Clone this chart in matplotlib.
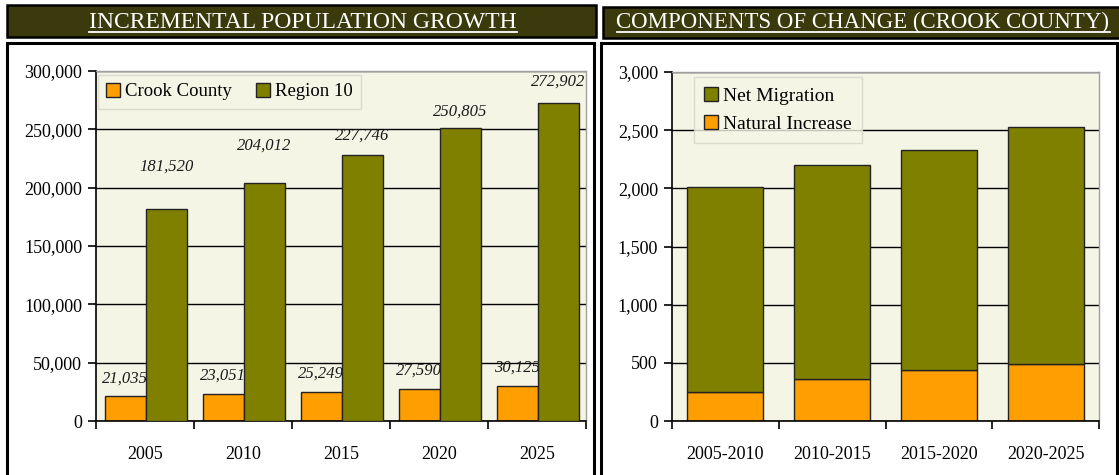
import matplotlib
matplotlib.use("Agg")
import matplotlib.pyplot as plt
from matplotlib.patches import Rectangle, Patch
from matplotlib.lines import Line2D
import numpy as np

# ---- data ----
years = ["2005", "2010", "2015", "2020", "2025"]
crook_county = [21035, 23051, 25249, 27590, 30125]
region_10 = [181520, 204012, 227746, 250805, 272902]

periods = ["2005-2010", "2010-2015", "2015-2020", "2020-2025"]
natural_increase = [245, 357, 437, 494]
net_migration = [1765, 1843, 1892, 2035]

left_title = "INCREMENTAL POPULATION GROWTH"
right_title = "COMPONENTS OF CHANGE (CROOK COUNTY)"

# label offsets above bar tops (points) – annotation placement only
crook_label_off = [13, 13, 13, 13, 13]
region_label_off = [31, 27, 14, 12, 15]

ORANGE = "#FF9E00"
OLIVE = "#808000"
EDGE = "#222222"
PLOTBG = "#F5F5E6"
BAR_DARK = "#3a3a0c"
SERIF = ["Liberation Serif", "DejaVu Serif"]

plt.rcParams["font.family"] = SERIF

W, H = 1119, 475
fig = plt.figure(figsize=(W / 100, H / 100), dpi=100)
fig.patch.set_facecolor("white")


def fx(px):
    return px / W


def fy(py):
    return 1 - py / H


def rect_px(x0, y0, x1, y1, **kw):
    r = Rectangle((fx(x0), fy(y1)), fx(x1) - fx(x0), fy(y0) - fy(y1),
                  transform=fig.transFigure, **kw)
    fig.add_artist(r)
    return r


# panel frames
rect_px(7, 43, 594, 480, facecolor="white", edgecolor="black", lw=2.2, zorder=0)
rect_px(601, 43, 1117, 480, facecolor="white", edgecolor="black", lw=2.2, zorder=0)
# title bars
rect_px(7, 5, 596, 37, facecolor=BAR_DARK, edgecolor="black", lw=1.8, zorder=0)
rect_px(603, 7, 1121, 38, facecolor=BAR_DARK, edgecolor="black", lw=1.8, zorder=0)

t1 = fig.text(fx(303), fy(22), left_title, color="white", fontsize=17,
              ha="center", va="center", family=SERIF)
t2 = fig.text(fx(863), fy(22), right_title, color="white", fontsize=16.5,
              ha="center", va="center", family=SERIF)


def style_axes(ax, n):
    ax.set_facecolor(PLOTBG)
    ax.set_xlim(-0.5, n - 0.5)
    for s in ["top", "right"]:
        ax.spines[s].set_color("#a0a0a0")
        ax.spines[s].set_linewidth(1)
    for s in ["left", "bottom"]:
        ax.spines[s].set_color("black")
        ax.spines[s].set_linewidth(1.2)
    ax.yaxis.grid(True, color="black", lw=1)
    ax.set_axisbelow(True)
    ax.set_xticks(np.arange(n + 1) - 0.5)
    ax.set_xticklabels([])
    ax.tick_params(axis="x", which="major", direction="out", length=6, width=1.2)
    ax.tick_params(axis="y", which="major", direction="out", length=6, width=1.2,
                   labelsize=13, pad=4)
    ax.set_xticks(np.arange(n), minor=True)
    ax.tick_params(axis="x", which="minor", length=0, labelsize=13, pad=18)


# ---- left chart ----
axL = fig.add_axes([fx(96), fy(421), fx(586) - fx(96), fy(71) - fy(421)])
style_axes(axL, len(years))
x = np.arange(len(years))
bw = 0.42
axL.bar(x - 0.5 + 0.09, crook_county, width=bw, align="edge", color=ORANGE,
        edgecolor=EDGE, lw=1, zorder=2, label="Crook County")
axL.bar(x - 0.5 + 0.51, region_10, width=bw, align="edge", color=OLIVE,
        edgecolor=EDGE, lw=1, zorder=4, label="Region 10")
axL.set_ylim(0, 300000)
axL.set_yticks(np.arange(0, 300001, 50000))
axL.set_yticklabels([f"{v:,}" for v in range(0, 300001, 50000)])
axL.set_xticklabels(years, minor=True)
for i in range(len(years)):
    axL.annotate(f"{crook_county[i]:,}", (x[i] - 0.5 + 0.09 + bw / 2, crook_county[i]),
                 xytext=(0, crook_label_off[i]), textcoords="offset points",
                 ha="center", va="center", fontsize=12, style="italic",
                 color="#1a1a1a", zorder=3)
    axL.annotate(f"{region_10[i]:,}", (x[i] - 0.5 + 0.51 + bw / 2, region_10[i]),
                 xytext=(0, region_label_off[i]), textcoords="offset points",
                 ha="center", va="center", fontsize=12, style="italic",
                 color="#1a1a1a", zorder=5)
legL = axL.legend(handles=[Patch(facecolor=ORANGE, edgecolor=EDGE, label="Crook County"),
                           Patch(facecolor=OLIVE, edgecolor=EDGE, label="Region 10")],
                  ncol=2, loc="upper left", bbox_to_anchor=(0.004, 0.99),
                  borderaxespad=0, fontsize=13.5, frameon=True, fancybox=False,
                  handlelength=0.75, handleheight=0.75, handletextpad=0.25,
                  columnspacing=1.3, borderpad=0.45)
legL.get_frame().set_facecolor(PLOTBG)
legL.get_frame().set_edgecolor("#d5d5c8")
legL.get_frame().set_linewidth(1)
legL.set_zorder(10)

# ---- right chart ----
axR = fig.add_axes([fx(672), fy(421), fx(1099) - fx(672), fy(72) - fy(421)])
style_axes(axR, len(periods))
xr = np.arange(len(periods))
axR.bar(xr, natural_increase, width=0.71, color=ORANGE, edgecolor=EDGE, lw=1, zorder=2)
axR.bar(xr, net_migration, width=0.71, bottom=natural_increase, color=OLIVE,
        edgecolor=EDGE, lw=1, zorder=2)
axR.set_ylim(0, 3000)
axR.set_yticks(np.arange(0, 3001, 500))
axR.set_yticklabels([f"{v:,}" for v in range(0, 3001, 500)])
axR.set_xticklabels(periods, minor=True)
legR = axR.legend(handles=[Patch(facecolor=OLIVE, edgecolor=EDGE, label="Net Migration"),
                           Patch(facecolor=ORANGE, edgecolor=EDGE, label="Natural Increase")],
                  loc="upper left", bbox_to_anchor=(0.0515, 0.986),
                  borderaxespad=0, fontsize=14, frameon=True, fancybox=False,
                  handlelength=0.75, handleheight=0.75, handletextpad=0.25,
                  labelspacing=0.55, borderpad=0.5)
legR.get_frame().set_facecolor(PLOTBG)
legR.get_frame().set_edgecolor("#d5d5c8")
legR.get_frame().set_linewidth(1)
legR.set_zorder(10)

# underline titles
fig.canvas.draw()
r = fig.canvas.get_renderer()
for t in (t1, t2):
    bb = t.get_window_extent(renderer=r)
    yline = bb.y0 + 1
    fig.add_artist(Line2D([bb.x0 / W, bb.x1 / W], [yline / H, yline / H],
                          transform=fig.transFigure, color="white", lw=1.3))

fig.savefig("out.png", dpi=100, facecolor="white")
